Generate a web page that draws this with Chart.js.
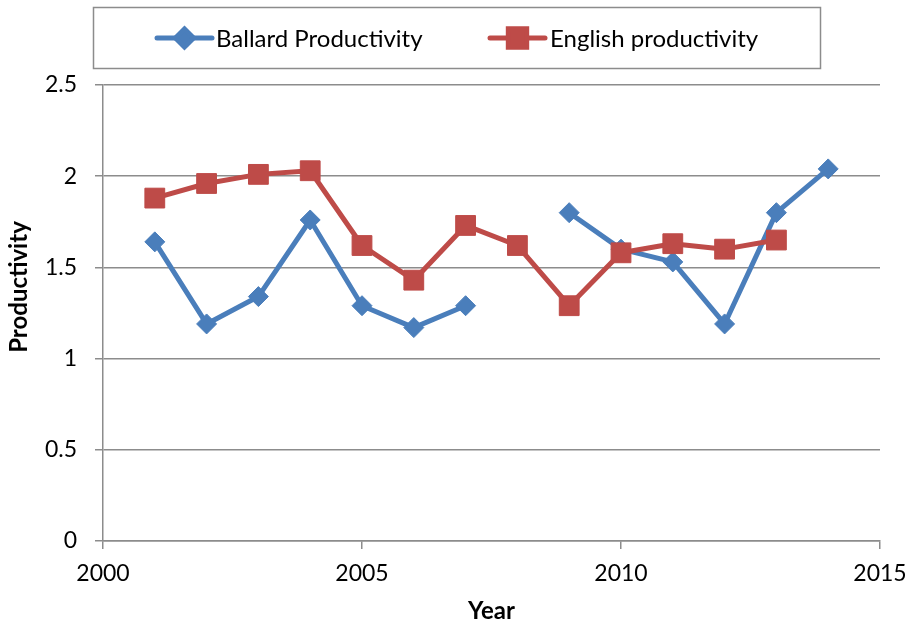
<!DOCTYPE html>
<html>
<head>
<meta charset="utf-8">
<script src="https://cdn.jsdelivr.net/npm/chart.js@4/dist/chart.umd.min.js"></script>
<style>
  html, body { margin: 0; padding: 0; background: #fff; }
  #wrap { width: 905px; height: 626px; position: relative; }
</style>
</head>
<body>
<div id="wrap"><canvas id="chart" width="905" height="626"></canvas></div>
<script>
const YEARS = [2001, 2002, 2003, 2004, 2005, 2006, 2007, 2008, 2009, 2010, 2011, 2012, 2013, 2014];
const BALLARD = [1.64, 1.19, 1.34, 1.76, 1.29, 1.17, 1.29, null, 1.80, 1.60, 1.53, 1.19, 1.80, 2.04];
const ENGLISH = [1.88, 1.96, 2.01, 2.03, 1.62, 1.43, 1.73, 1.62, 1.29, 1.58, 1.63, 1.60, 1.65, null];
const SERIES_NAMES = ["Ballard Productivity", "English productivity"];
const X_TITLE = "Year";
const Y_TITLE = "Productivity";
const X_TICKS = { min: 2000, max: 2015, step: 5 };
const Y_TICKS = { min: 0, max: 2.5, step: 0.5 };

const BLUE = "#4A7EBB";
const RED = "#BE4B48";
const GRID = "#8C8C8C";
const FONT = "Lato, 'Open Sans', sans-serif";

function toPoints(values) {
  return YEARS.map((year, i) => ({ x: year, y: values[i] }));
}

// boxed legend above the plot, drawn by hand so it can carry line + marker,
// plus the y title which sits a little above the plot's middle
const boxedLegend = {
  id: "boxedLegend",
  afterDraw(chart) {
    const ctx = chart.ctx;
    ctx.save();
    ctx.strokeStyle = GRID;
    ctx.lineWidth = 1.5;
    ctx.strokeRect(93.5, 7.5, 727, 61);

    const entries = [
      { ds: chart.data.datasets[0], x: 157, textX: 216 },
      { ds: chart.data.datasets[1], x: 490, textX: 550 },
    ];
    const y = 38;
    entries.forEach((e) => {
      ctx.strokeStyle = e.ds.borderColor;
      ctx.lineWidth = 5;
      ctx.lineCap = "round";
      ctx.beginPath();
      ctx.moveTo(e.x, y);
      ctx.lineTo(e.x + 55, y);
      ctx.stroke();
      ctx.fillStyle = e.ds.pointBackgroundColor;
      ctx.strokeStyle = e.ds.pointBorderColor;
      Chart.helpers.drawPoint(ctx, {
        pointStyle: e.ds.pointStyle,
        radius: e.ds.pointRadius - 1,
        rotation: 0,
        borderWidth: 1,
      }, e.x + 27.5, y);
      ctx.fillStyle = "#000";
      ctx.font = "24px " + FONT;
      ctx.textBaseline = "middle";
      ctx.textAlign = "left";
      ctx.fillText(e.ds.label, e.textX, y + 1);
    });

    ctx.translate(19, 287);
    ctx.rotate(-Math.PI / 2);
    ctx.font = "bold 24px " + FONT;
    ctx.textAlign = "center";
    ctx.textBaseline = "middle";
    ctx.fillStyle = "#000";
    ctx.fillText(Y_TITLE, 0, 0);
    ctx.restore();
  },
};

new Chart(document.getElementById("chart"), {
  type: "line",
  data: {
    datasets: [
      {
        label: SERIES_NAMES[0],
        data: toPoints(BALLARD),
        borderColor: BLUE,
        backgroundColor: BLUE,
        pointBackgroundColor: BLUE,
        pointBorderColor: BLUE,
        borderWidth: 5,
        pointStyle: "rectRot",
        pointRadius: 10,
        pointBorderWidth: 1,
        borderJoinStyle: "round",
        borderCapStyle: "round",
        spanGaps: false,
        order: 1,
      },
      {
        label: SERIES_NAMES[1],
        data: toPoints(ENGLISH),
        borderColor: RED,
        backgroundColor: RED,
        pointBackgroundColor: RED,
        pointBorderColor: RED,
        borderWidth: 5,
        pointStyle: "rect",
        pointRadius: 14,
        pointBorderWidth: 1,
        borderJoinStyle: "round",
        borderCapStyle: "round",
        spanGaps: false,
        order: 0,
      },
    ],
  },
  options: {
    responsive: false,
    animation: false,
    events: [],
    layout: { padding: { top: 85, right: 2, left: 0, bottom: 0 } },
    plugins: {
      legend: { display: false },
      tooltip: { enabled: false },
    },
    scales: {
      x: {
        type: "linear",
        min: X_TICKS.min,
        max: X_TICKS.max,
        afterFit(scale) {
          scale.height = 85;
          scale.paddingRight = 25;
        },
        ticks: {
          stepSize: X_TICKS.step,
          color: "#000",
          font: { family: FONT, size: 23 },
          padding: 11,
          maxRotation: 0,
          callback: (v) => String(v),
        },
        grid: { drawOnChartArea: false, drawTicks: true, tickLength: 8, color: GRID, lineWidth: 1.5 },
        border: { display: true, color: GRID, width: 1.5 },
        title: {
          display: true,
          text: X_TITLE,
          color: "#000",
          font: { family: FONT, size: 24, weight: "bold" },
          padding: { top: 4, bottom: 0 },
        },
      },
      y: {
        min: Y_TICKS.min,
        max: Y_TICKS.max,
        afterFit(scale) { scale.width = 103; },
        ticks: {
          stepSize: Y_TICKS.step,
          color: "#000",
          font: { family: FONT, size: 23 },
          padding: 18,
          callback: (v) => String(Math.round(v * 10) / 10),
        },
        grid: { color: GRID, lineWidth: 1.5, tickLength: 8 },
        border: { display: true, color: GRID, width: 1.5 },
        title: { display: false },
      },
    },
  },
  plugins: [boxedLegend],
});
</script>
</body>
</html>
